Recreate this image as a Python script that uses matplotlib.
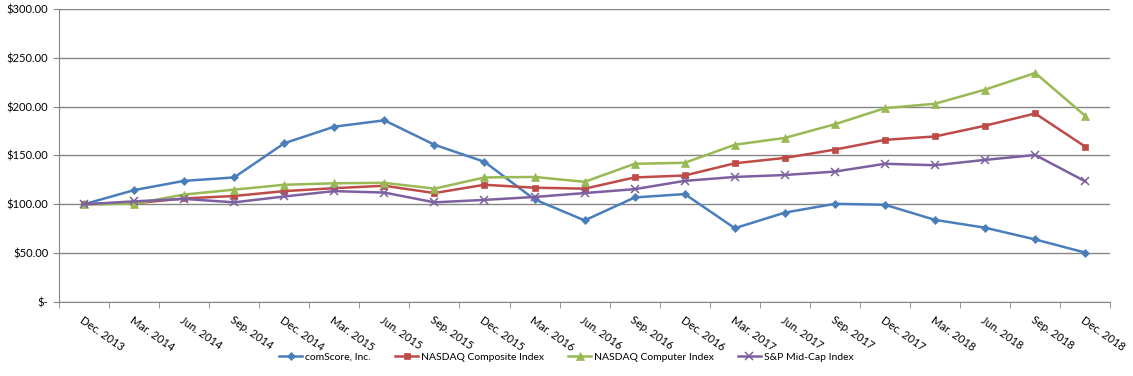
import numpy as np
import matplotlib.pyplot as plt
from matplotlib.ticker import FuncFormatter

plt.rcParams['font.family'] = ['Lato', 'DejaVu Sans']

periods = ['Dec. 2013', 'Mar. 2014', 'Jun. 2014', 'Sep. 2014', 'Dec. 2014',
           'Mar. 2015', 'Jun. 2015', 'Sep. 2015', 'Dec. 2015', 'Mar. 2016',
           'Jun. 2016', 'Sep. 2016', 'Dec. 2016', 'Mar. 2017', 'Jun. 2017',
           'Sep. 2017', 'Dec. 2017', 'Mar. 2018', 'Jun. 2018', 'Sep. 2018',
           'Dec. 2018']

comscore = [100, 114.5, 124, 127.5, 162.5, 179.5, 186, 161, 143.5, 105, 83.5,
            107, 110.5, 75.5, 91.5, 100.5, 99.5, 84, 76, 64, 50.5]
nasdaq_comp = [100, 101, 106, 108.5, 113.5, 116.5, 119, 111.5, 120, 117, 116,
               127.5, 129.5, 142, 147.5, 156, 166, 169.5, 180.5, 193, 159]
nasdaq_computer = [100, 100.5, 110, 115, 120, 121.5, 122, 116, 127.5, 128, 123,
                   141.5, 142.5, 161, 168, 182, 198.5, 203, 217.5, 234.5, 190.5]
sp_midcap = [100, 103, 105.5, 102, 108, 113.5, 112, 102, 104.5, 107.5, 111.5,
             115.5, 124, 128, 130, 133.5, 141.5, 140, 145.5, 150.5, 123.5]

series = [
    ('comScore, Inc.', comscore, '#4A7EBB', 'D', 4.5),
    ('NASDAQ Composite Index', nasdaq_comp, '#BE4B48', 's', 5),
    ('NASDAQ Computer Index', nasdaq_computer, '#98B954', '^', 6),
    ('S&P Mid-Cap Index', sp_midcap, '#7D60A0', 'x', 6),
]

fig = plt.figure(figsize=(11.33, 3.76), dpi=100)
ax = fig.add_axes([0.052, 0.197, 0.928, 0.779])

x = np.arange(len(periods))
for name, vals, col, mk, ms in series:
    ax.plot(x, vals, color=col, lw=1.8, marker=mk, markersize=ms,
            markeredgecolor=col, markeredgewidth=1.1 if mk == 'x' else 0.5,
            label=name)

ax.set_xlim(-0.5, len(periods) - 0.5)
ax.set_ylim(0, 300)
ax.set_yticks(np.arange(0, 301, 50))
ax.yaxis.set_major_formatter(FuncFormatter(lambda v, p: '$-' if v == 0 else f'${v:.2f}'))
ax.yaxis.grid(True, color='#868686', lw=1)
ax.set_axisbelow(True)

ax.set_xticks(x)
ax.set_xticklabels(periods, rotation=-35, ha='left', va='top',
                   rotation_mode='anchor', fontsize=8)
ax.set_xticks(np.arange(-0.5, len(periods)), minor=True)
ax.tick_params(axis='x', which='major', length=0, pad=9)
ax.tick_params(axis='x', which='minor', length=4, color='#868686')
ax.tick_params(axis='y', length=4, color='#868686', labelsize=8)

for s in ['top', 'right']:
    ax.spines[s].set_visible(False)
for s in ['left', 'bottom']:
    ax.spines[s].set_color('#868686')

fig.legend(loc='center', bbox_to_anchor=(0.5, 0.05), ncol=4, frameon=False,
           fontsize=7.5, handlelength=2.2, handletextpad=0.3, columnspacing=2.3,
           markerscale=0.9)

fig.savefig('out.png', dpi=100)
